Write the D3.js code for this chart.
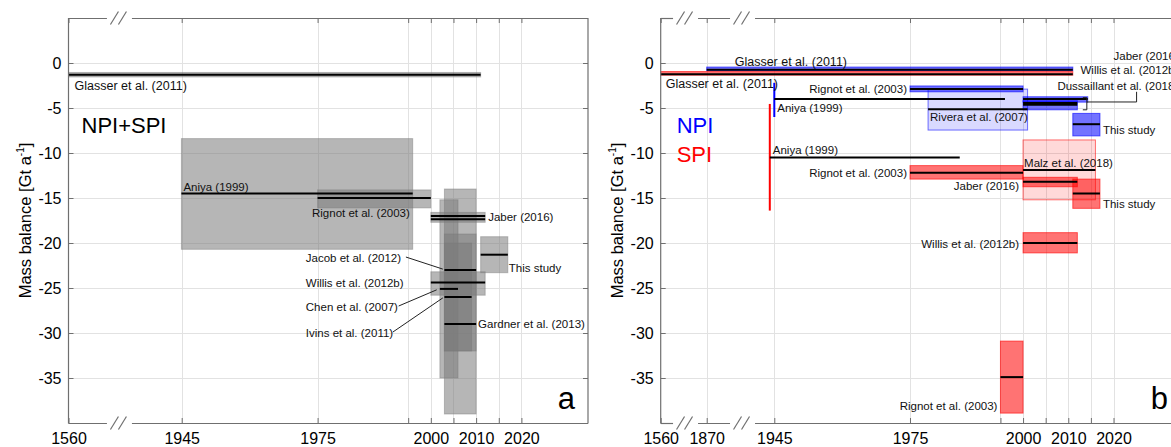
<!DOCTYPE html>
<html><head><meta charset="utf-8">
<script src="https://cdn.jsdelivr.net/npm/d3@7"></script>
<style>
body{margin:0;background:#fff;}
svg{display:block;font-family:"Liberation Sans",Arial,Helvetica,sans-serif;}
</style></head><body>
<svg id="chart" width="1171" height="447"></svg>
<script>
// ================= DATA =================
const yTicks = [0, -5, -10, -15, -20, -25, -30, -35];
const aTickYears = [1560, 1945, 1975, 1995, 2000, 2005, 2010, 2015, 2020];
const aTickLabels = [1560, 1945, 1975, 2000, 2010, 2020];
const bTickYears = [1560, 1870, 1945, 1975, 1995, 2000, 2005, 2010, 2015, 2020];
const bTickLabels = [1560, 1870, 1945, 1975, 2000, 2010, 2020];
const aXDomain = [1560, 1945, 2034.7];
const bXDomain = [1560, 1870, 1945, 2034.7];

// Panel a: NPI+SPI combined
const aStudy = ["Glasser et al. (2011)", "Aniya (1999)", "Rignot et al. (2003)", "Jaber (2016)", "Jaber (2016)",
  "Jacob et al. (2012)", "Willis et al. (2012b)", "Chen et al. (2007)", "Ivins et al. (2011)", "Gardner et al. (2013)", "This study"];
const aStart = [1560, 1944, 1975, 2000, 2000, 2003, 2000, 2002, 2003, 2003, 2011];
const aEnd   = [2011, 1996, 2000, 2012, 2012, 2010, 2012, 2006, 2009, 2010, 2017];
const aValue = [-1.3, -14.5, -15.0, -17.0, -17.35, -23.0, -24.4, -25.1, -26.0, -29.0, -21.3];
const aLow   = [-1.55, -20.7, -16.1, -17.7, null, -32.0, -25.8, -35.0, -32.0, -39.0, -23.3];
const aHigh  = [-1.05, -8.4, -14.1, -16.6, null, -14.0, -23.2, -15.2, -20.0, -19.0, -19.3];

// Panel b: NPI and SPI separately
const bStudy = ["Glasser et al. (2011)", "Glasser et al. (2011)", "Rignot et al. (2003)", "Aniya (1999)", "Rivera et al. (2007)",
  "Jaber (2016)", "Willis et al. (2012b)", "Dussaillant et al. (2018)", "This study",
  "Aniya (1999)", "Rignot et al. (2003)", "Malz et al. (2018)", "Jaber (2016)", "This study", "Willis et al. (2012b)", "Rignot et al. (2003)"];
const bRegion = ["NPI", "SPI", "NPI", "NPI", "NPI", "NPI", "NPI", "NPI", "NPI",
  "SPI", "SPI", "SPI", "SPI", "SPI", "SPI", "SPI"];
const bStart = [1870, 1560, 1975, 1945, 1979, 2000, 2000, 2000, 2011, 1940, 1975, 2000, 2000, 2011, 2000, 1995];
const bEnd   = [2011, 2011, 2000, 1996, 2001, 2014.3, 2012, 2012, 2017, 1986, 2000, 2016, 2012, 2017, 2012, 2000];
const bValue = [-0.75, -1.25, -2.9, -4.0, -5.15, -4.0, -4.45, -4.65, -6.8, -10.5, -12.2, -11.9, -13.2, -14.5, -20.0, -34.9];
const bLow   = [-0.85, -1.35, -3.2, -6.0, -7.45, -4.35, -5.2, null, -8.1, -16.4, -12.9, -15.2, -13.75, -16.15, -21.1, -38.9];
const bHigh  = [-0.45, -0.95, -2.55, -2.2, -2.9, -3.75, -4.2, null, -5.6, -4.55, -11.4, -8.55, -12.7, -12.9, -18.85, -30.9];
const bBoxStart = [1870, 1560, 1975, 1945, 1979, 2000, 2000, 2000, 2011, 1940, 1975, 2000, 2000, 2011, 2000, 1995];
const bBoxEnd   = [2011, 2011, 2000, 1945, 2001, 2014.3, 2012, 2012, 2017, 1940, 2000, 2016, 2012, 2017, 2012, 2000];

// ================= LAYOUT =================
const svg = d3.select("#chart");
const FONT = '"Liberation Sans", Arial, Helvetica, sans-serif';
const y = d3.scaleLinear().domain([-40, 5]).range([423, 18]);
const xa = d3.scaleLinear().domain(aXDomain).range([68.5, 181.7, 588]);
const xb = d3.scaleLinear().domain(bXDomain).range([660.7, 706.7, 774.3, 1180]);
const axisColor = "#6f6f6f", gridColor = "#e2e2e2";
const colors = {NPI: "#0000ff", SPI: "#ff0000"};
const lightStudies = new Set(["Rivera et al. (2007)", "Malz et al. (2018)"]);

function drawFrame(g, x, ticks) {
  const r = x.range(), L = r[0], R = r[r.length - 1], T = y.range()[1], B = y.range()[0];
  g.append("g").selectAll("line").data(ticks.slice(1)).join("line")
    .attr("x1", d => Math.round(x(d)) + 0.5).attr("x2", d => Math.round(x(d)) + 0.5)
    .attr("y1", T).attr("y2", B).attr("stroke", gridColor).attr("stroke-width", 1);
  g.append("g").selectAll("line").data(yTicks).join("line")
    .attr("x1", L).attr("x2", R).attr("y1", d => Math.round(y(d)) + 0.5).attr("y2", d => Math.round(y(d)) + 0.5)
    .attr("stroke", gridColor).attr("stroke-width", 1);
}

function drawAxes(g, x, ticks, tickLabels, breaks) {
  const r = x.range(), L = r[0], R = r[r.length - 1], T = y.range()[1], B = y.range()[0];
  const style = sel => {
    sel.attr("font-family", FONT).attr("font-size", 16);
    sel.select(".domain").remove();
    sel.selectAll(".tick line").attr("stroke", axisColor);
    sel.selectAll(".tick text").attr("fill", "#000");
  };
  g.append("g").attr("transform", `translate(0,${B})`)
    .call(d3.axisBottom(x).tickValues(ticks).tickFormat(d => tickLabels.includes(d) ? String(d) : "")
      .tickSizeInner(-5).tickSizeOuter(0).tickPadding(10)).call(style);
  g.append("g").attr("transform", `translate(0,${T})`)
    .call(d3.axisTop(x).tickValues(ticks).tickFormat("").tickSizeInner(-5).tickSizeOuter(0)).call(style);
  g.append("g").attr("transform", `translate(${L},0)`)
    .call(d3.axisLeft(y).tickValues(yTicks).tickFormat(d => String(d)).tickSizeInner(-5).tickSizeOuter(0).tickPadding(7)).call(style);
  g.append("g").attr("transform", `translate(${R},0)`)
    .call(d3.axisRight(y).tickValues(yTicks).tickFormat("").tickSizeInner(-5).tickSizeOuter(0)).call(style);
  const gap = 12.5;
  const segs = [];
  let s = L;
  breaks.forEach(c => { segs.push([s, c - gap]); s = c + gap; });
  segs.push([s, R]);
  [T, B].forEach(yy => {
    segs.forEach(([a, b]) => g.append("line").attr("x1", a).attr("x2", b)
      .attr("y1", yy + 0.5).attr("y2", yy + 0.5).attr("stroke", axisColor).attr("stroke-width", 1.2));
    breaks.forEach(c => {
      [-5, 3].forEach(o => g.append("line")
        .attr("x1", c + o - 4).attr("y1", yy + 6.5).attr("x2", c + o + 4).attr("y2", yy - 6.5)
        .attr("stroke", axisColor).attr("stroke-width", 1.2));
    });
  });
  [L, R].forEach(xx => g.append("line").attr("x1", xx).attr("x2", xx).attr("y1", T).attr("y2", B + 0.5)
    .attr("stroke", axisColor).attr("stroke-width", 1.2));
  const t = g.append("text").attr("transform", `translate(${L - 38},${(T + B) / 2}) rotate(-90)`)
    .attr("text-anchor", "middle").attr("font-family", FONT).attr("font-size", 16.5).attr("fill", "#000");
  t.append("tspan").text("Mass balance [Gt a");
  t.append("tspan").attr("font-size", 10).attr("dy", -7).text("-1");
  t.append("tspan").attr("dy", 7).text("]");
}

function drawLabels(g, x, labels) {
  g.append("g").selectAll("text").data(labels).join("text")
    .attr("x", d => x(d.year) + (d.dx || 0))
    .attr("y", d => y(d.v) + (d.dy || 0))
    .attr("text-anchor", d => d.anchor || "start")
    .attr("dominant-baseline", "central")
    .attr("font-family", FONT)
    .attr("font-size", d => d.size || 11.5)
    .attr("fill", d => d.color || "#111")
    .text(d => d.t);
}

// ---------- Panel a ----------
const ga = svg.append("g");
drawFrame(ga, xa, aTickYears);
const aIdx = d3.range(aStudy.length);
ga.append("g").selectAll("rect").data(aIdx.filter(i => aLow[i] !== null)).join("rect")
  .attr("x", i => xa(aStart[i])).attr("width", i => xa(aEnd[i]) - xa(aStart[i]))
  .attr("y", i => y(aHigh[i])).attr("height", i => y(aLow[i]) - y(aHigh[i]))
  .attr("fill", "#7a7a7a").attr("fill-opacity", 0.55)
  .attr("stroke", "#7a7a7a").attr("stroke-opacity", 0.45).attr("stroke-width", 1);
ga.append("g").selectAll("line").data(aIdx).join("line")
  .attr("x1", i => xa(aStart[i])).attr("x2", i => xa(aEnd[i]))
  .attr("y1", i => y(aValue[i])).attr("y2", i => y(aValue[i]))
  .attr("stroke", "#000").attr("stroke-width", 2);

const aLeaders = [
  {x1: 1994.5, v1: -21.56, x2: 2002.65, v2: -22.9},
  {x1: 1992.9, v1: -27.0, x2: 2001.3, v2: -25.2},
  {x1: 1991.6, v1: -29.9, x2: 2002.65, v2: -26.1}
];
ga.append("g").selectAll("line").data(aLeaders).join("line")
  .attr("x1", d => xa(d.x1)).attr("y1", d => y(d.v1)).attr("x2", d => xa(d.x2)).attr("y2", d => y(d.v2))
  .attr("stroke", "#222").attr("stroke-width", 1);

drawAxes(ga, xa, aTickYears, aTickLabels, [xa(1560) + (xa(1945) - xa(1560)) * 0.45]);

const aLabels = [
  {t: aStudy[0], year: 1560, dx: 6, v: aValue[0], dy: 11, size: 12.5},
  {t: "NPI+SPI", year: 1560, dx: 13, v: -6.9, size: 22, color: "#000"},
  {t: aStudy[1], year: 1944, dx: 2, v: aValue[1], dy: -6.5},
  {t: aStudy[2], year: 2000, dx: -21, v: aValue[2], dy: 15, anchor: "end"},
  {t: aStudy[3], year: 2012, dx: 3, v: -17.15},
  {t: aStudy[5], year: 1972.4, v: -21.67},
  {t: aStudy[6], year: 1972.4, v: aValue[6]},
  {t: aStudy[7], year: 1972.4, v: -27.1},
  {t: aStudy[8], year: 1972.4, v: -30.0},
  {t: aStudy[9], year: 2010, dx: 2, v: aValue[9]},
  {t: aStudy[10], year: 2017, dx: 1, v: -22.8}
];
drawLabels(ga, xa, aLabels);
ga.append("text").attr("x", 575).attr("y", 409).attr("text-anchor", "end")
  .attr("font-family", FONT).attr("font-size", 31).attr("fill", "#000").text("a");

// ---------- Panel b ----------
const gb = svg.append("g");
drawFrame(gb, xb, bTickYears);
const bIdx = d3.range(bStudy.length);
const bBoxes = bIdx.filter(i => bLow[i] !== null);
gb.append("g").selectAll("rect").data(bBoxes.filter(i => bBoxEnd[i] > bBoxStart[i])).join("rect")
  .attr("x", i => xb(bBoxStart[i])).attr("width", i => xb(bBoxEnd[i]) - xb(bBoxStart[i]))
  .attr("y", i => y(bHigh[i])).attr("height", i => y(bLow[i]) - y(bHigh[i]))
  .attr("fill", i => colors[bRegion[i]])
  .attr("fill-opacity", i => lightStudies.has(bStudy[i]) ? 0.15 : 0.55)
  .attr("stroke", i => colors[bRegion[i]])
  .attr("stroke-opacity", i => lightStudies.has(bStudy[i]) ? 0.55 : 0.6).attr("stroke-width", 1);
gb.append("g").selectAll("line").data(bBoxes.filter(i => bBoxEnd[i] === bBoxStart[i])).join("line")
  .attr("x1", i => xb(bBoxStart[i])).attr("x2", i => xb(bBoxStart[i]))
  .attr("y1", i => y(bHigh[i])).attr("y2", i => y(bLow[i]))
  .attr("stroke", i => colors[bRegion[i]]).attr("stroke-width", 2);
gb.append("g").selectAll("line").data(bIdx).join("line")
  .attr("x1", i => xb(bStart[i])).attr("x2", i => xb(bEnd[i]))
  .attr("y1", i => y(bValue[i])).attr("y2", i => y(bValue[i]))
  .attr("stroke", "#000").attr("stroke-width", 2);

const bx = xb(2014.1), bTop = y(-3.85), bBot = y(-5.2), bMid = y(-4.33), bRight = xb(2025.1), bUp = y(-3.2);
gb.append("path")
  .attr("d", `M${bx - 4},${bTop}H${bx}V${bBot}H${bx - 4}M${bx},${bMid}H${bRight}V${bUp}`)
  .attr("fill", "none").attr("stroke", "#222").attr("stroke-width", 1);

drawAxes(gb, xb, bTickYears, bTickLabels,
  [xb(1560) + (xb(1870) - xb(1560)) * 0.54, xb(1870) + (xb(1945) - xb(1870)) * 0.53]);

const bLabels = [
  {t: bStudy[0], year: 1870, dx: 28, v: bValue[0], dy: -7.5, size: 12.5},
  {t: bStudy[1], year: 1560, dx: 5, v: bValue[1], dy: 9.5, size: 12.5},
  {t: bStudy[2], year: 1975, dx: -3, v: bValue[2], anchor: "end"},
  {t: bStudy[3], year: 1945, dx: 3, v: bValue[3], dy: 9},
  {t: bStudy[4], year: 1979, dx: 2, v: bValue[4], dy: 8},
  {t: bStudy[5], year: 2020, v: 0.78},
  {t: bStudy[6], year: 2012.7, v: -0.83},
  {t: bStudy[7], year: 2007.6, v: -2.5},
  {t: bStudy[8], year: 2017, dx: 3, v: bValue[8], dy: 6},
  {t: "NPI", year: 1560, dx: 16, v: -6.97, size: 22, color: colors.NPI},
  {t: "SPI", year: 1560, dx: 16, v: -10.22, size: 22, color: colors.SPI},
  {t: bStudy[9], year: 1940, dx: 3, v: bValue[9], dy: -7.5},
  {t: bStudy[10], year: 1975, dx: -3, v: bValue[10], anchor: "end"},
  {t: bStudy[11], year: 2000, dx: 1, v: bValue[11], dy: -7.5},
  {t: bStudy[12], year: 2000, dx: -4, v: bValue[12], dy: 4, anchor: "end"},
  {t: bStudy[13], year: 2017, dx: 3, v: bValue[13], dy: 10.5},
  {t: bStudy[14], year: 2000, dx: -4, v: bValue[14], dy: 1, anchor: "end"},
  {t: bStudy[15], year: 1995, dx: -3, v: bValue[15], dy: 29, anchor: "end"}
];
drawLabels(gb, xb, bLabels);
gb.append("text").attr("x", 1168).attr("y", 409).attr("text-anchor", "end")
  .attr("font-family", FONT).attr("font-size", 31).attr("fill", "#000").text("b");
</script>
</body></html>
